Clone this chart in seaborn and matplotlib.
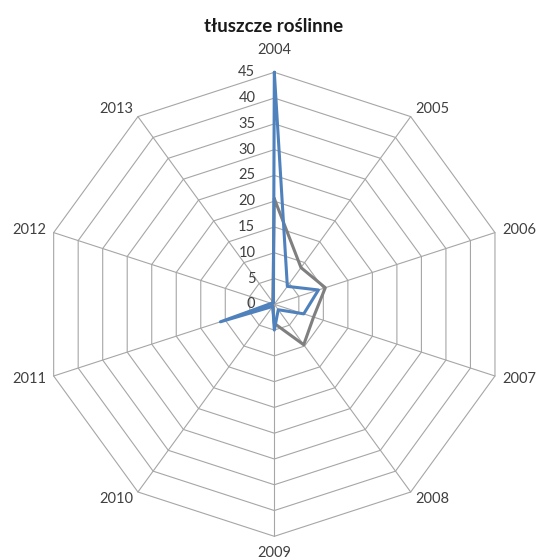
import numpy as np
import matplotlib
matplotlib.use('Agg')
import matplotlib.pyplot as plt
import matplotlib.transforms as mtransforms
import seaborn as sns

years = ['2004', '2005', '2006', '2007', '2008', '2009', '2010', '2011', '2012', '2013']
blue_vals = [45.0, 4.3, 9.0, 6.0, 1.3, 5.0, 0.5, 11.0, 0.6, 0.3]
gray_vals = [20.5, 8.8, 10.4, 8.0, 9.7, 3.7, 0.5, 0.5, 0.5, 0.5]
ticks = [0, 5, 10, 15, 20, 25, 30, 35, 40, 45]
title = 'tłuszcze roślinne'

sns.set_theme(style='white')
plt.rcParams['font.family'] = ['Lato', 'DejaVu Sans']

fig = plt.figure(figsize=(5.41, 5.6), dpi=100)
ax = fig.add_axes([0.0782, 0.0423, 0.8577, 0.8286], projection='polar')
ax.set_theta_zero_location('N')
ax.set_theta_direction(-1)
rmax = max(ticks)
ax.set_ylim(0, rmax)
ax.grid(False)
ax.spines['polar'].set_visible(False)
ax.set_xticks([])
ax.set_yticks([])
ax.patch.set_visible(False)

n = len(years)
theta = np.linspace(0, 2 * np.pi, n, endpoint=False)
theta_c = np.append(theta, theta[0])

grid_col = '#A6A6A6'
for r in ticks[1:]:
    ax.plot(theta_c, [r] * (n + 1), color=grid_col, lw=0.8, clip_on=False, zorder=1)
for t in theta:
    ax.plot([t, t], [0, rmax], color=grid_col, lw=0.8, clip_on=False, zorder=1)

gray_c = np.append(gray_vals, gray_vals[0])
blue_c = np.append(blue_vals, blue_vals[0])
sns.lineplot(x=theta_c, y=gray_c, sort=False, estimator=None, ax=ax,
             color='#7F7F7F', lw=2.2, zorder=3)
sns.lineplot(x=theta_c, y=blue_c, sort=False, estimator=None, ax=ax,
             color='#4F81BD', lw=2.2, zorder=4)
for l in ax.lines:
    l.set_clip_on(False)

off = mtransforms.offset_copy(ax.transData, fig=fig, x=-19, y=0, units='dots')
for r in ticks:
    ax.text(0, r, str(r), transform=off, ha='right', va='center',
            fontsize=10.5, color='#404040')

for t, y in zip(theta, years):
    s, c = np.sin(t), np.cos(t)
    if abs(s) < 0.1:
        dx, dy, ha = 0, (22 if c > 0 else -17), 'center'
    else:
        dx, dy = 8 * s, 9 * c
        ha = 'left' if s > 0 else 'right'
    tr = mtransforms.offset_copy(ax.transData, fig=fig, x=dx, y=dy, units='dots')
    ax.text(t, rmax, y, transform=tr, ha=ha, va='center', fontsize=10.5,
            color='#404040', clip_on=False)

ax.set_xlabel('')
ax.set_ylabel('')
fig.text(0.505, 1 - 27 / 560, title, ha='center', va='center',
         fontsize=13.5, fontweight='bold', color='#1a1a1a')

fig.savefig('out.png', dpi=100)
